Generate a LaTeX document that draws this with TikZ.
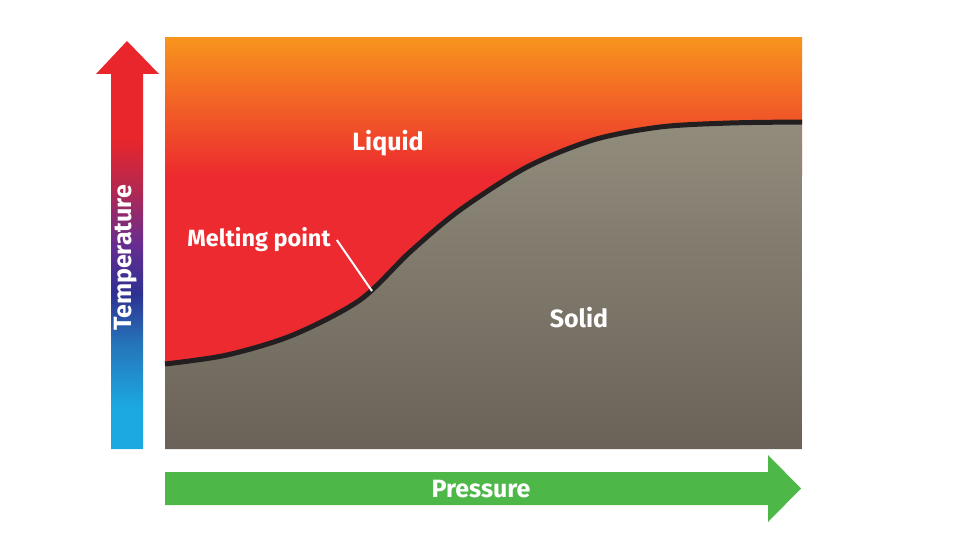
\documentclass[tikz,border=0pt]{standalone}
\usepackage{fontspec}
\setmainfont{Fira Sans}
\definecolor{liqorange}{HTML}{F7941D}
\definecolor{liqred}{HTML}{EC2A2F}
\definecolor{solidtop}{HTML}{918C7C}
\definecolor{solidbot}{HTML}{6A6258}
\definecolor{presgreen}{HTML}{4DB748}
\definecolor{curveblack}{HTML}{231F20}
\definecolor{tlightblue}{HTML}{1CA9E1}
\definecolor{tblue}{HTML}{2574B9}
\definecolor{tnavy}{HTML}{2E3192}
\definecolor{tpurple}{HTML}{662D91}
\definecolor{tcrimson}{HTML}{B5284F}
\definecolor{tred}{HTML}{E8262B}
\pgfdeclareverticalshading{tempshade}{100bp}{%
  color(0bp)=(tlightblue); color(30bp)=(tlightblue);
  color(38bp)=(tblue); color(44bp)=(tnavy); color(50bp)=(tpurple);
  color(57bp)=(tcrimson); color(63bp)=(tred); color(100bp)=(tred)}
\tikzset{
  lbl/.style={text=white, font=\bfseries\fontsize{25}{28}\selectfont, inner sep=0pt},
}
\begin{document}
\begin{tikzpicture}[x=1pt, y=-1pt]
\useasboundingbox (0,0) rectangle (960,540);
% liquid part
\shade[top color=liqorange, bottom color=liqred] (165,38) rectangle (802,176);
\fill[liqred] (165,175) rectangle (802,449);
% solid part
\shade[top color=solidtop, bottom color=solidbot]
  plot[smooth, tension=0.5] coordinates {(165,364) (227,355) (293,335) (360,300) (410,252) (460,210) (527,167) (593,140) (660,127) (730,123) (802,122)}
  -- (802,449) -- (165,449) -- cycle;
\draw[curveblack, line width=5pt]
  plot[smooth, tension=0.5] coordinates {(165,364) (227,355) (293,335) (360,300) (410,252) (460,210) (527,167) (593,140) (660,127) (730,123) (802,122)};
% labels
\path (388,143) node[lbl] (liquid) {Liquid};
\path (579,318) node[lbl] (solid) {Solid};
\path (259,240) node[lbl, font=\bfseries\fontsize{23.5}{27}\selectfont] (melt) {Melting point};
\coordinate (mp) at (372,291);
\draw[white, line width=2pt] (melt.east) ++(6,0) coordinate (mstart) (mstart) -- (mp);
% axes
\shade[shading=tempshade]
  (111,449) -- (111,74) -- (96,74) -- (127,41) -- (159,74) -- (143,74) -- (143,449) -- cycle;
\path (126,258) node[lbl, rotate=90] (temp) {Temperature};
\fill[presgreen]
  (165,472) -- (768,472) -- (768,455) -- (801,488.5) -- (768,522) -- (768,505) -- (165,505) -- cycle;
\path (481,489) node[lbl] (pres) {Pressure};
\end{tikzpicture}
\end{document}
